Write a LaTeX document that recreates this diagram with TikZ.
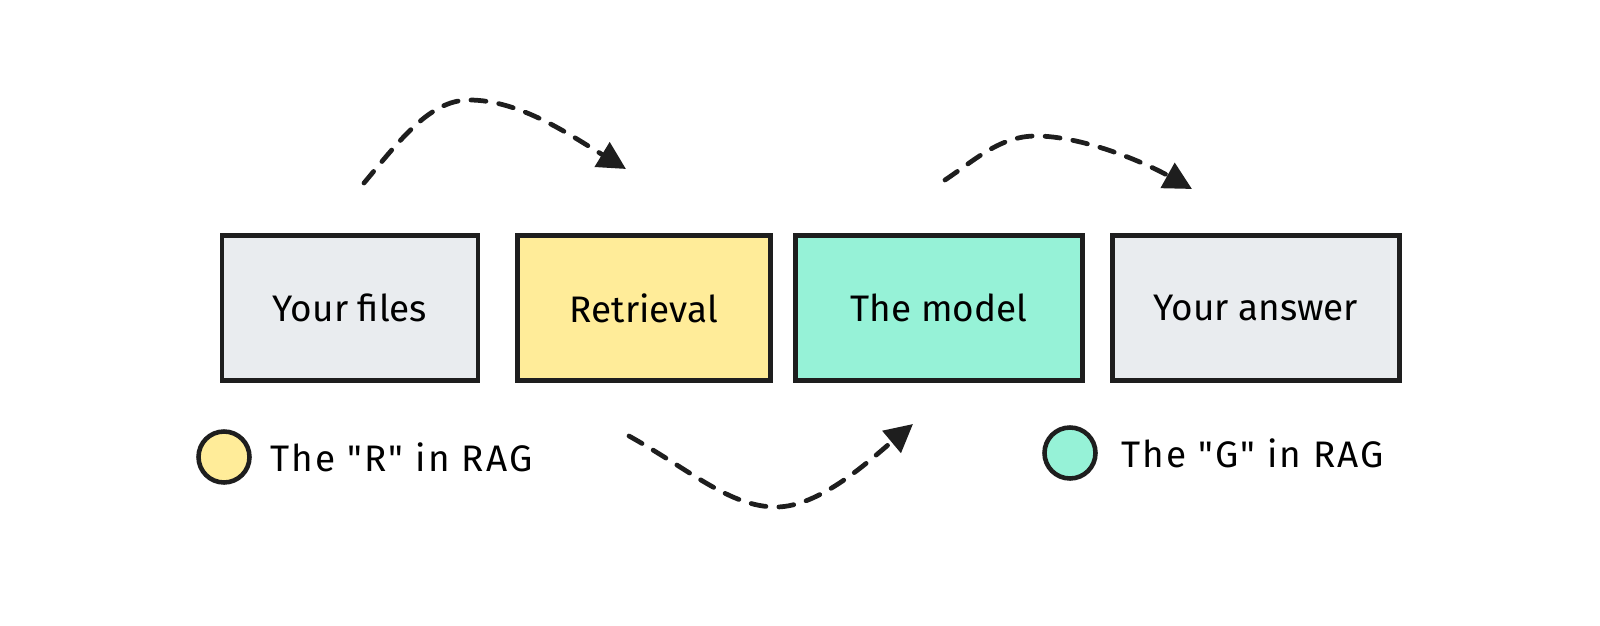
\documentclass[tikz,border=0pt]{standalone}
\usepackage{fontspec}
\setmainfont{Fira Sans}[Ligatures=TeXOff]
\newfontfamily\legendfont{Fira Sans}[Ligatures=TeXOff, LetterSpace=6]
\usepackage{tikz}
\usetikzlibrary{positioning}
\usetikzlibrary{arrows.meta}

\definecolor{ink}{HTML}{1E1E1E}
\definecolor{paper}{HTML}{E9ECEF}
\definecolor{yel}{HTML}{FFEC99}
\definecolor{mint}{HTML}{96F2D7}

\tikzset{
  box/.style={draw=ink, line width=2.8pt, minimum height=29mm, inner sep=0pt,
    font=\fontsize{21}{25}\selectfont},
  dot/.style={circle, draw=ink, line width=2.6pt, minimum size=10.2mm, inner sep=0pt},
  legend/.style={inner sep=0pt, font=\legendfont\fontsize{21}{25}\selectfont},
  flow/.style={draw=ink, line width=2.7pt, line cap=round,
    dash pattern=on 3mm off 2.6mm, -{Triangle[length=5.6mm,width=5.6mm]}},
}

\begin{document}
\begin{tikzpicture}[x=0.2mm,y=-0.2mm]
        \useasboundingbox (0,0) rectangle (1600,626);
        % Nodes
        \node[box, fill=paper, minimum width=51.2mm]  (files) at (350,308) {Your files};
        \node[box, fill=yel, minimum width=50.6mm, right=6.9mm of files]  (retr) {Retrieval};
        \node[box, fill=mint, minimum width=57.3mm, right=4.1mm of retr]  (model) {The model};
        \node[box, fill=paper, minimum width=57.4mm, right=5.0mm of model]  (answer) {Your answer};
        % Legend
        \node[dot, fill=yel]  (rdot) at (224,457) {};
        \node[legend, right=3.6mm of rdot]  (rtext) {The "R" in RAG};
        \node[dot, fill=mint]  (gdot) at (1070,453) {};
        \node[legend, right=4.6mm of gdot]  (gtext) {The "G" in RAG};
        % Arrows
        \coordinate (a1s) at (364,183);
        \coordinate (a1p) at (469,100);
        \coordinate (a1t) at (626,169);
        \coordinate (a2s) at (945,180);
        \coordinate (a2p) at (1036,136);
        \coordinate (a2t) at (1192,189);
        \coordinate (a3s) at (629,436);
        \coordinate (a3b) at (776,507);
        \coordinate (a3t) at (913,424);
        \draw[flow] (a1s) .. controls (400,140) and (430,100) .. (a1p)
                    .. controls (520,100) and (570,135) .. (a1t);
        \draw[flow] (a2s) .. controls (975,160) and (1000,136) .. (a2p)
                    .. controls (1080,136) and (1140,160) .. (a2t);
        \draw[flow] (a3s) .. controls (690,470) and (730,507) .. (a3b)
                    .. controls (820,507) and (870,460) .. (a3t);
    \end{tikzpicture}
\end{document}
